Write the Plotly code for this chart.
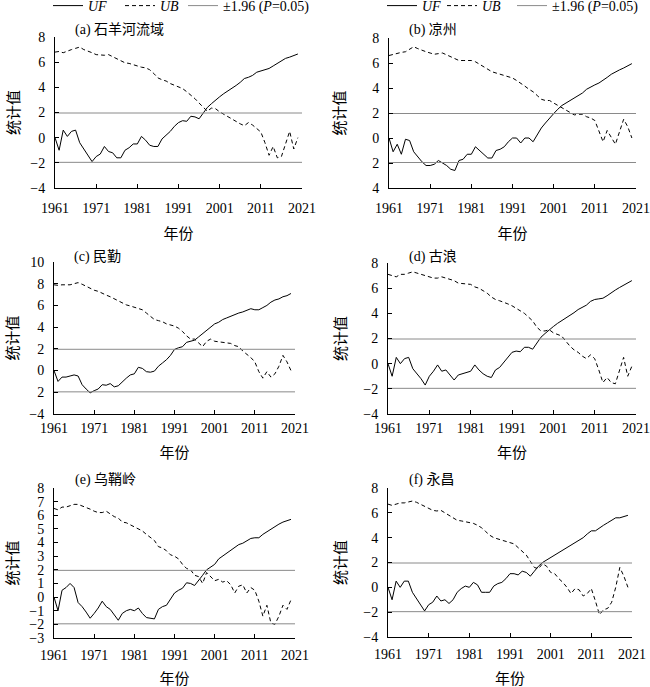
import plotly.graph_objects as go

years = list(range(1961, 2021))
ref_x = [1961, 2021]
crit = 1.96

uf_a = [0.0,-1.0,0.6,0.1,0.5,0.6,-0.4,-0.9,-1.4,-1.9,
        -1.5,-1.3,-0.7,-1.1,-1.2,-1.6,-1.6,-1.0,-0.8,-0.5,
        -0.5,0.1,-0.2,-0.6,-0.7,-0.7,-0.1,0.2,0.5,0.9,
        1.2,1.35,1.3,1.7,1.65,1.5,2.0,2.4,2.7,3.0,
        3.25,3.5,3.7,3.95,4.15,4.4,4.7,4.8,4.95,5.2,
        5.3,5.35,5.5,5.7,5.9,6.1,6.3,6.4,6.55,6.65]
ub_a = [6.8,6.85,6.75,6.9,7.0,7.1,7.2,7.0,6.9,6.75,
        6.6,6.55,6.55,6.6,6.45,6.25,6.1,5.95,5.9,5.8,
        5.65,5.6,5.55,5.4,5.1,4.75,4.6,4.5,4.3,4.15,
        4.05,3.9,3.65,3.4,3.1,2.75,2.4,2.1,2.35,2.3,
        2.05,1.85,1.7,1.5,1.3,1.1,0.95,1.2,1.0,0.7,
        0.45,-0.4,-1.4,-0.7,-1.6,-1.5,-0.5,0.5,-0.9,0.0]

uf_b = [0.0,-1.1,-0.5,-1.3,-0.1,-0.2,-1.1,-1.5,-1.9,-2.2,
        -2.2,-2.1,-1.8,-2.0,-2.2,-2.5,-2.6,-1.8,-1.7,-1.3,
        -1.3,-0.7,-1.0,-1.3,-1.6,-1.6,-1.0,-0.9,-0.7,-0.3,
        0.0,0.0,-0.4,0.0,0.0,-0.3,0.3,0.8,1.2,1.6,
        1.95,2.3,2.6,2.8,3.0,3.2,3.4,3.6,3.9,4.1,
        4.25,4.4,4.6,4.85,5.1,5.3,5.45,5.6,5.8,5.95]
ub_b = [6.6,6.7,6.8,6.85,6.9,7.1,7.3,7.15,7.0,6.9,
        6.8,6.7,6.75,6.8,6.65,6.5,6.3,6.2,6.2,6.2,
        6.2,6.1,5.9,5.7,5.5,5.3,5.2,5.1,4.95,4.85,
        4.8,4.6,4.4,4.15,3.9,3.7,3.4,3.1,3.0,3.0,
        2.8,2.6,2.4,2.2,2.0,1.85,1.9,1.9,1.7,1.6,
        1.4,0.5,-0.3,0.6,0.1,-0.5,0.5,1.5,0.9,0.0]

uf_c = [0.0,-1.0,-0.6,-0.6,-0.5,-0.4,-0.5,-1.3,-1.7,-2.05,
        -1.85,-1.7,-1.3,-1.35,-1.2,-1.5,-1.4,-1.0,-0.7,-0.4,
        -0.3,0.3,0.2,-0.1,-0.15,-0.05,0.4,0.7,1.0,1.4,
        1.95,2.1,2.2,2.6,2.7,2.8,3.1,3.4,3.7,4.0,
        4.3,4.45,4.7,4.85,5.0,5.2,5.3,5.4,5.55,5.7,
        5.6,5.6,5.8,6.0,6.3,6.5,6.6,6.8,6.9,7.1]
ub_c = [7.9,7.85,7.9,7.9,7.9,8.0,8.1,7.95,7.75,7.6,
        7.4,7.3,7.1,6.95,6.8,6.6,6.4,6.2,6.05,5.95,
        5.85,5.7,5.6,5.3,5.0,4.7,4.6,4.5,4.3,4.2,
        4.1,3.9,3.6,3.2,2.9,2.9,2.5,2.2,2.7,2.9,
        2.7,2.65,2.6,2.6,2.5,2.3,2.2,1.8,1.5,1.2,
        0.8,-0.1,-0.7,-0.1,-0.6,-0.3,0.4,1.4,0.8,0.0]

uf_d = [0.0,-1.0,0.5,0.0,0.4,0.5,-0.4,-0.8,-1.2,-1.7,
        -1.0,-0.6,-0.1,-0.6,-0.5,-0.9,-1.3,-0.9,-0.8,-0.7,
        -0.6,-0.1,-0.5,-0.8,-1.0,-1.1,-0.5,-0.3,0.1,0.5,
        0.9,1.0,0.95,1.3,1.3,1.15,1.6,2.1,2.4,2.7,
        2.95,3.2,3.4,3.6,3.8,4.05,4.3,4.45,4.65,4.95,
        5.1,5.15,5.2,5.4,5.65,5.85,6.05,6.25,6.4,6.6]
ub_d = [7.1,7.0,6.9,7.1,7.1,7.2,7.3,7.2,7.1,7.0,
        6.9,6.8,6.8,6.9,6.8,6.7,6.6,6.4,6.35,6.3,
        6.3,6.1,6.0,5.8,5.6,5.3,5.1,5.0,4.9,4.75,
        4.6,4.4,4.2,4.0,3.7,3.4,2.9,2.6,2.6,2.7,
        2.45,2.35,2.2,1.8,1.4,1.1,0.9,0.6,0.4,0.7,
        0.4,-0.5,-1.5,-1.1,-1.5,-1.6,-0.6,0.5,-1.0,-0.2]

uf_e = [0.0,-1.0,0.5,0.7,1.0,0.7,-0.4,-0.7,-1.1,-1.55,
        -1.2,-0.8,-0.3,-0.7,-0.9,-1.3,-1.7,-1.2,-1.0,-0.9,
        -1.0,-0.8,-1.2,-1.5,-1.55,-1.6,-0.9,-0.7,-0.6,-0.1,
        0.3,0.5,0.65,1.05,1.0,0.85,1.2,1.6,2.0,2.2,
        2.4,2.8,3.0,3.2,3.4,3.6,3.85,3.95,4.1,4.3,
        4.35,4.35,4.6,4.8,5.0,5.2,5.35,5.5,5.6,5.7]
ub_e = [6.5,6.4,6.6,6.6,6.7,6.8,6.8,6.7,6.6,6.45,
        6.3,6.2,6.2,6.3,6.1,5.9,5.8,5.5,5.45,5.3,
        5.2,5.0,4.85,4.6,4.35,4.15,3.7,3.6,3.4,3.1,
        3.0,2.8,2.4,2.1,2.0,1.6,1.5,1.0,1.8,1.5,
        1.2,1.3,1.1,1.2,0.9,0.3,0.8,0.9,0.3,0.7,
        0.5,-0.3,-1.4,-0.6,-1.9,-2.0,-1.4,-0.6,-0.9,-0.2]

uf_f = [0.0,-1.0,0.5,0.0,0.5,0.5,-0.4,-0.9,-1.4,-1.9,
        -1.4,-1.2,-0.7,-1.1,-1.0,-1.3,-1.0,-0.4,-0.1,0.1,
        0.0,0.4,0.2,-0.4,-0.4,-0.4,0.1,0.3,0.4,0.7,
        1.1,1.1,1.0,1.3,1.2,0.9,1.3,1.7,2.0,2.2,
        2.4,2.6,2.8,3.0,3.2,3.4,3.6,3.8,4.0,4.3,
        4.55,4.55,4.8,5.0,5.2,5.4,5.6,5.6,5.7,5.8]
ub_f = [6.7,6.6,6.7,6.8,6.8,6.9,6.95,6.85,6.7,6.5,
        6.35,6.2,6.15,6.2,6.0,5.8,5.6,5.4,5.35,5.3,
        5.25,5.15,5.0,4.8,4.5,4.2,4.0,3.9,3.8,3.7,
        3.6,3.5,3.2,2.9,2.6,2.1,1.6,1.5,1.9,1.7,
        1.2,1.1,0.7,0.4,0.0,-0.5,-0.1,-0.2,-0.7,-0.5,
        -0.1,-1.1,-2.2,-1.8,-1.7,-1.2,0.0,1.6,0.9,0.0]

titles = ["(a) 石羊河流域", "(b) 凉州", "(c) 民勤", "(d) 古浪", "(e) 乌鞘岭", "(f) 永昌"]
uf_all = [uf_a, uf_b, uf_c, uf_d, uf_e, uf_f]
ub_all = [ub_a, ub_b, ub_c, ub_d, ub_e, ub_f]
y_ranges = [[-4, 8], [-4, 8], [-4, 10], [-4, 8], [-3, 8], [-4, 8]]
y_dticks = [2, 2, 2, 2, 1, 2]
x_ticks = [1961, 1971, 1981, 1991, 2001, 2011, 2021]

# geometry (pixels) of each panel: x0, x1, ytop, ybottom
W, H = 650, 687
geom = [(55, 302, 37, 188), (389, 636, 38, 188),
        (54, 295, 262, 414), (388, 636, 263, 414),
        (54, 295, 488, 638), (388, 632, 488, 637)]
xlab_standoff = [7, 7, 1, 1, 4, 4]
xtitle_standoff = [13, 13, 12, 12, 18, 18]
ytitle_standoff = [7, 22, 7, 13, 7, 13]

FONT = "Liberation Serif, Noto Sans CJK SC"
GREY = "#8a8a8a"

fig = go.Figure()
legend_names = [["legend", "legend2", "legend3"], ["legend4", "legend5", "legend6"]]

for i in range(6):
    ax = "" if i == 0 else str(i + 1)
    xref, yref = "x" + ax, "y" + ax
    show = i < 2
    lg = legend_names[i] if show else [None, None, None]
    fig.add_trace(go.Scatter(x=years, y=uf_all[i], mode="lines", name="<i>UF</i>",
                             line=dict(color="black", width=1), xaxis=xref, yaxis=yref,
                             showlegend=show, legend=lg[0]))
    fig.add_trace(go.Scatter(x=years, y=ub_all[i], mode="lines", name="<i>UB</i>",
                             line=dict(color="black", width=1, dash="4px,3px"),
                             xaxis=xref, yaxis=yref, showlegend=show, legend=lg[1]))
    fig.add_trace(go.Scatter(x=ref_x + [None] + ref_x, y=[crit, crit, None, -crit, -crit],
                             mode="lines", name="±1.96 (<i>P</i>=0.05)",
                             line=dict(color=GREY, width=1), xaxis=xref, yaxis=yref,
                             showlegend=show, legend=lg[2]))

layout = dict(width=W, height=H, margin=dict(l=0, r=0, t=0, b=0, autoexpand=False),
              paper_bgcolor="white", plot_bgcolor="white",
              font=dict(family=FONT, size=14, color="black"))

for i in range(6):
    x0, x1, yt, yb = geom[i]
    ax = "" if i == 0 else str(i + 1)
    lo, hi = y_ranges[i]
    tv = list(range(lo, hi + 1, y_dticks[i]))
    tt = [("−" + str(-v)) if v < 0 else str(v) for v in tv]
    if i == 1:
        tt = [str(abs(v)) for v in tv]
    if i == 2:
        tt = ["−4"] + [str(abs(v)) for v in tv[1:]]
    layout["xaxis" + ax] = dict(domain=[x0 / W, x1 / W], anchor="y" + ax,
                                range=[1961, 2021], tickvals=x_ticks,
                                ticks="inside", ticklen=4, tickcolor="black",
                                showline=True, linecolor="black", linewidth=1,
                                showgrid=False, zeroline=False,
                                ticklabelstandoff=xlab_standoff[i],
                                tickfont=dict(family=FONT, size=14),
                                title=dict(text="年份", standoff=xtitle_standoff[i],
                                           font=dict(family=FONT, size=15)))
    layout["yaxis" + ax] = dict(domain=[1 - yb / H, 1 - yt / H], anchor="x" + ax,
                                range=[lo, hi], tickvals=tv, ticktext=tt,
                                ticks="inside", ticklen=4, tickcolor="black",
                                showline=True, linecolor="black", linewidth=1,
                                showgrid=False, zeroline=False,
                                ticklabelstandoff=6, tickfont=dict(family=FONT, size=14),
                                title=dict(text="统计值", standoff=ytitle_standoff[i],
                                           font=dict(family=FONT, size=15)))

legend_px = [53, 125, 188, 387, 447, 517]
for name, px in zip(legend_names[0] + legend_names[1], legend_px):
    layout[name] = dict(x=(px - 5) / W, y=1 - 6 / H, xref="container", yref="container",
                        xanchor="left", yanchor="middle",
                        orientation="h", bgcolor="rgba(0,0,0,0)", borderwidth=0,
                        font=dict(family=FONT, size=14), itemwidth=30)

fig.update_layout(**layout)

title_pos = [(73, 30), (407, 30), (72, 257), (407, 257), (73, 480), (407, 480)]
for t, (px, py) in zip(titles, title_pos):
    fig.add_annotation(text=t, x=px / W, y=1 - py / H, xref="paper", yref="paper",
                       xanchor="left", yanchor="middle", showarrow=False,
                       font=dict(family=FONT, size=14))

# remove the default page margin so the figure sits at the window's top-left corner
fig.write_html("out.html", config={"displayModeBar": False},
               post_script="document.body.style.margin='0';document.body.style.overflow='hidden';")
